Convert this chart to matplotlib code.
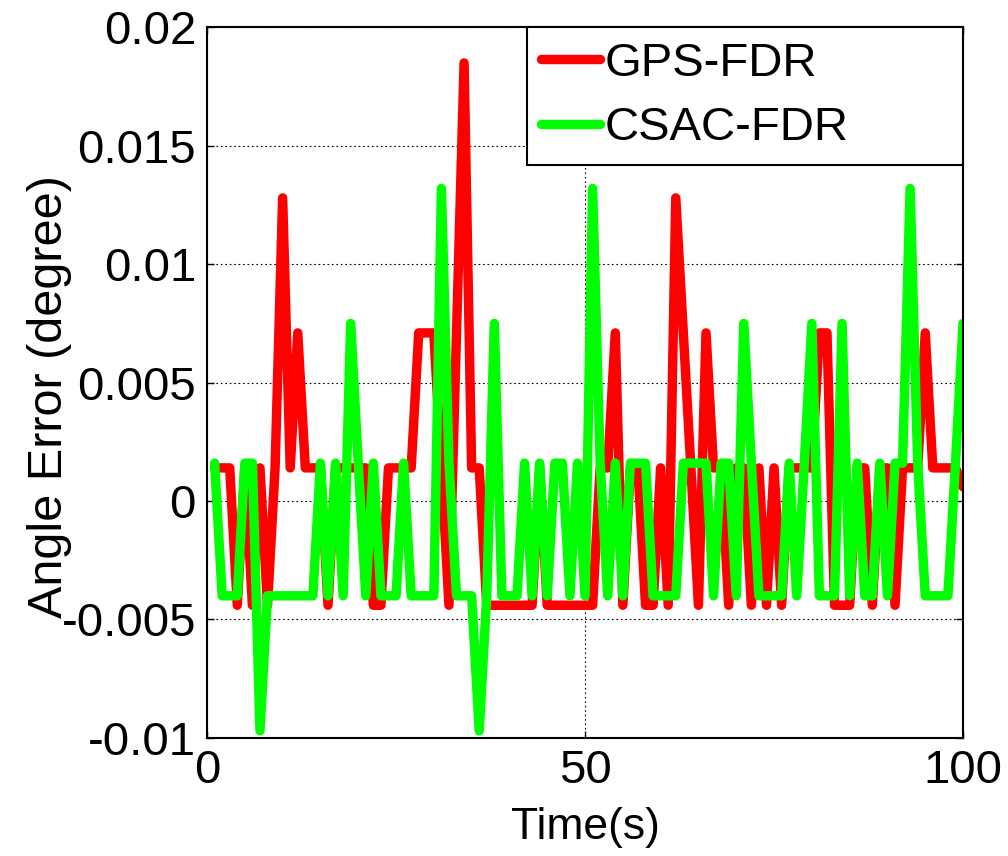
import numpy as np
from matplotlib import pyplot as plt

plt.rcParams["font.family"] = ["Liberation Sans", "DejaVu Sans"]

# quantised error levels (degree)
H, L, M, P, PP = 0.0014, -0.0044, 0.0071, 0.0128, 0.0185
h, l, m, p, n = 0.0016, -0.0040, 0.0075, 0.0132, -0.0097

time = np.arange(1, 101)

gps_fdr = [H, H, H, L, H, L, H, L, H, P,
           H, M, H, H, H, L, H, H, H, H,
           H, L, L, H, H, H, H, M, M, M,
           H, L, M, PP, H, H, L, L, L, L,
           L, L, L, H, L, L, L, L, L, L,
           L, H, H, M, L, H, H, L, L, H,
           L, P, M, H, L, M, H, H, L, H,
           H, L, H, L, H, L, H, H, H, H,
           M, M, L, L, L, H, H, L, H, H,
           L, H, H, H, M, H, H, H, H, 0.0006]

csac_fdr = [h, l, l, l, h, h, n, l, l, l,
            l, l, l, l, h, l, h, l, m, h,
            l, h, l, l, l, h, l, l, l, l,
            p, h, l, l, l, n, l, m, l, l,
            l, h, l, h, l, h, h, l, h, l,
            p, h, l, h, l, h, h, h, l, l,
            l, l, h, h, h, h, l, h, h, l,
            m, h, l, l, l, l, h, l, h, m,
            l, l, l, m, l, h, l, l, h, l,
            h, h, p, h, l, l, l, l, h, m]

fig = plt.figure(figsize=(10.08, 8.56), dpi=100)
ax = fig.add_axes([0.2054, 0.138, 0.75, 0.83])

ax.plot(time, gps_fdr, color=(1, 0, 0), lw=6.8, label='GPS-FDR',
        solid_joinstyle='round', solid_capstyle='round')
ax.plot(time, csac_fdr, color=(0, 1, 0), lw=6.8, label='CSAC-FDR',
        solid_joinstyle='round', solid_capstyle='round')

ax.set_xlim(0, 100)
ax.set_ylim(-0.01, 0.02)
ax.set_xticks([0, 50, 100])
ax.set_yticks([-0.01, -0.005, 0, 0.005, 0.01, 0.015, 0.02])
ax.set_yticklabels(['-0.01', '-0.005', '0', '0.005', '0.01', '0.015', '0.02'])
ax.tick_params(direction='in', length=5, width=1, top=True, right=True,
               labelsize=34, pad=8)
ax.grid(True, color='black', linestyle=(0, (1.5, 2.5)), linewidth=0.8)
for s in ax.spines.values():
    s.set_linewidth(1.5)

ax.set_xlabel('Time(s)', fontsize=32, va='top')
ax.xaxis.set_label_coords(0.5, -0.098)
ax.set_ylabel('Angle Error (degree)', fontsize=35)
ax.yaxis.set_label_coords(-0.178, 0.48)

leg = ax.legend(loc='upper left', bbox_to_anchor=(0.423, 0.0, 0.577, 1.0),
                mode='expand', borderaxespad=0,
                fontsize=34, fancybox=False, framealpha=1, edgecolor='black',
                handlelength=1.25, handletextpad=0.1, borderpad=0.3,
                labelspacing=0.44)
leg.get_frame().set_linewidth(1.5)

fig.savefig('out.png', dpi=100)
